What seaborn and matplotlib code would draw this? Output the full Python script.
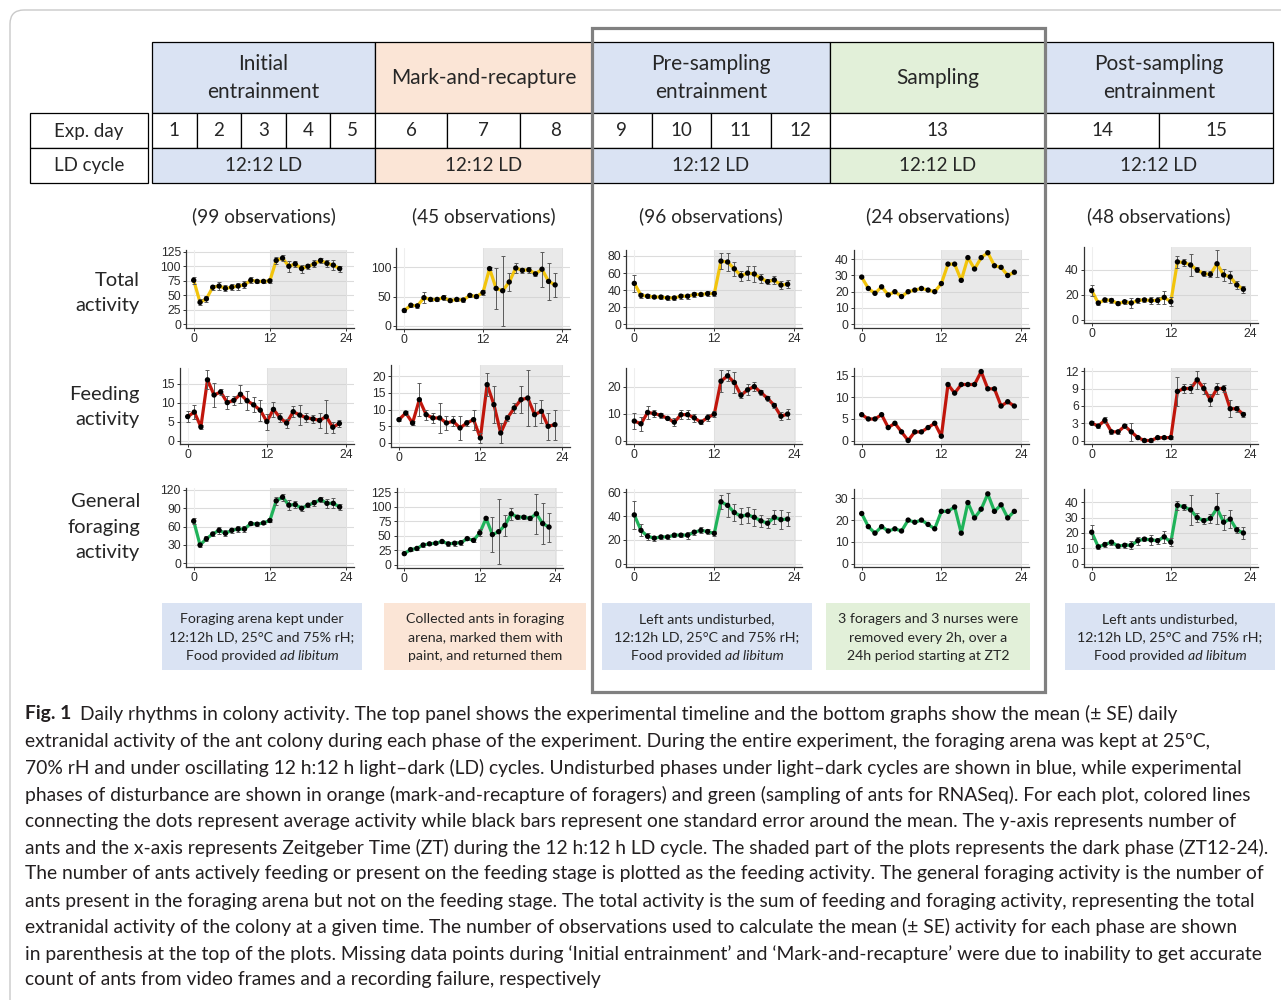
import matplotlib
matplotlib.use("Agg")
import matplotlib.pyplot as plt
import seaborn as sns
from matplotlib.patches import Rectangle, FancyBboxPatch
from matplotlib import font_manager as fm

sns.set_theme(style="white")
plt.rcParams['font.family'] = ['Lato', 'DejaVu Sans']

# ---------------- data ----------------
zt = list(range(24))

phase_names = ["Initial\nentrainment", "Mark-and-recapture", "Pre-sampling\nentrainment",
               "Sampling", "Post-sampling\nentrainment"]
phase_days = [[1, 2, 3, 4, 5], [6, 7, 8], [9, 10, 11, 12], [13], [14, 15]]
ld_cycle = ["12:12 LD"] * 5
obs_counts = [99, 45, 96, 24, 48]
row_labels = ["Total\nactivity", "Feeding\nactivity", "General\nforaging\nactivity"]
x_ticks = [0, 12, 24]

# Initial entrainment
init_total = [76, 38, 44, 64, 66, 62, 64, 66, 68, 76, 74, 74, 75, 110, 114, 100, 104, 96, 100, 104, 110, 105, 102, 96]
init_total_se = [6, 5, 5, 4, 7, 5, 5, 6, 6, 5, 3, 3, 3, 6, 5, 9, 5, 7, 4, 6, 4, 6, 8, 5]
init_feed = [6.3, 7.5, 3.6, 16, 12, 12.8, 10, 10.6, 12.2, 10.5, 9.4, 8, 5, 8.2, 6, 4.6, 7.6, 6.7, 6, 5.7, 5.3, 6.3, 3.5, 4.5]
init_feed_se = [1.5, 1.8, 0.5, 2.5, 3.2, 0.8, 1.8, 1.2, 2.4, 2.5, 2, 2.8, 2.1, 2, 1.2, 1.2, 1.5, 2.7, 1.2, 1, 2, 4.3, 1.4, 1]
init_forage = [69, 30, 40, 48, 54, 49, 54, 56, 56, 65, 64, 66, 70, 102, 108, 95, 96, 90, 95, 99, 104, 98, 98, 92]
init_forage_se = [5, 4, 4, 3, 6, 5, 4, 5, 5, 3, 3, 2, 2, 6, 6, 8, 5, 4, 3, 5, 4, 7, 8, 5]

# Mark-and-recapture
mark_total = [26, 35, 34, 48, 45, 45, 48, 43, 45, 44, 52, 50, 57, 98, 64, 60, 75, 99, 95, 96, 89, 97, 76, 70]
mark_total_se = [2, 3, 3, 9, 3, 3, 4, 3, 3, 3, 3, 3, 5, 3, 35, 60, 16, 8, 4, 5, 4, 30, 32, 21]
mark_feed = [7, 9, 6, 13, 8.5, 7.5, 7.5, 6, 6.5, 4.5, 6, 7, 1.5, 17.5, 11.5, 3, 7.5, 10.5, 13, 13.5, 8.5, 9.5, 5, 5.5]
mark_feed_se = [0.5, 0.5, 0.5, 5, 1.5, 1.5, 4.5, 2, 1.5, 3.5, 1, 3, 1.5, 3.5, 5.5, 3, 1, 1.5, 4, 8.5, 3.5, 3.5, 4, 4.5]
mark_forage = [19, 26, 28, 34, 36, 37, 40, 36, 37, 38, 45, 42, 55, 80, 52, 57, 68, 88, 82, 82, 80, 88, 71, 65]
mark_forage_se = [1, 2, 2, 4, 2, 2, 2, 3, 4, 4, 3, 3, 6, 3, 30, 56, 18, 10, 3, 3, 3, 35, 36, 25]

# Pre-sampling entrainment
pre_total = [48, 34, 33, 32, 32, 31, 31, 33, 33, 35, 35, 36, 36, 74, 73, 65, 57, 60, 59, 54, 50, 52, 46, 47]
pre_total_se = [10, 3, 2, 1.5, 2, 2, 2, 3, 3, 3, 2, 3, 3, 9, 10, 8, 6, 8, 9, 5, 3, 5, 5, 5]
pre_feed = [7.2, 6.2, 10.4, 10, 9.3, 8.2, 6.8, 9.6, 9.6, 8.4, 6.8, 8.5, 9.8, 22, 24, 21.5, 16.8, 18.8, 20, 17.8, 15.6, 13, 9, 9.8]
pre_feed_se = [3, 2.5, 2.3, 1.2, 0.8, 0.6, 1.5, 1.8, 1.8, 1.5, 0.8, 1.2, 1, 4, 2, 3.8, 1.2, 2, 1.8, 1, 1, 1, 1.5, 2]
pre_forage = [41, 28, 23, 21.5, 22.5, 22.5, 24, 24, 24, 26.5, 28, 27, 25.5, 52, 49, 43, 40, 41, 39, 36, 34, 39, 37, 37.5]
pre_forage_se = [12, 5, 3, 2, 2, 2, 1.5, 1.5, 3, 2, 2.5, 2, 2, 6, 10, 7, 7, 7, 7, 5, 4, 6, 8, 6]

# Sampling (single day, no error bars)
samp_total = [29, 22, 19, 23, 18, 20, 17, 20, 21, 22, 21, 20, 25, 37, 37, 27, 41, 34, 41, 44, 36, 35, 30, 32]
samp_feed = [6, 5, 5, 6, 3, 4, 2, 0, 2, 2, 3, 4, 1, 13, 11, 13, 13, 13, 16, 12, 12, 8, 9, 8]
samp_forage = [23, 17, 14, 17, 15, 16, 15, 20, 19, 20, 18, 16, 24, 24, 26, 14, 28, 21, 25, 32, 24, 27, 21, 24]

# Post-sampling entrainment
post_total = [23.5, 13.5, 16, 15.5, 13, 14.5, 13.5, 15.5, 16, 15.5, 15.5, 18, 14.5, 46.5, 46, 44, 40, 37, 36.5, 45, 36, 34.5, 28, 24.5]
post_total_se = [4.5, 1.5, 1.5, 2, 1, 1.5, 4, 2, 1.5, 3, 3, 5, 3.5, 5, 3, 9, 2, 2, 2.5, 11, 5, 5, 3, 3]
post_feed = [3, 2.5, 3.5, 1.5, 1.5, 2.5, 1.5, 0.5, 0, 0, 0.5, 0.5, 0.5, 8.5, 9, 9, 10.5, 9, 7, 9, 9, 5.5, 5.5, 4.5]
post_feed_se = [0.3, 0.3, 0.5, 0.4, 0.4, 0.4, 1.5, 0.3, 0.2, 0.2, 0.3, 0.3, 0.3, 2.5, 0.8, 0.8, 1.5, 1, 1, 1, 0.6, 1.5, 0.5, 0.5]
post_forage = [20.5, 11, 12.5, 14, 11.5, 12, 12, 15, 16, 15.5, 15, 17.5, 14, 38, 37, 35, 30, 28, 29.5, 36, 27, 29, 22, 20]
post_forage_se = [4.5, 1.5, 1.5, 1.5, 1, 1.5, 2.5, 2.5, 1.5, 3, 2, 4, 2.5, 3, 2, 10, 3, 2, 3, 10, 5, 6, 2, 4]

# y ticks per panel (columns = phases, rows = activity type)
y_ticks = [
    [[0, 25, 50, 75, 100, 125], [0, 5, 10, 15], [0, 30, 60, 90, 120]],
    [[0, 50, 100], [0, 5, 10, 15, 20], [0, 25, 50, 75, 100, 125]],
    [[0, 20, 40, 60, 80], [0, 10, 20], [0, 20, 40, 60]],
    [[0, 10, 20, 30, 40], [0, 5, 10, 15], [0, 10, 20, 30]],
    [[0, 20, 40], [0, 3, 6, 9, 12], [0, 10, 20, 30, 40]],
]
y_top = [[128, 19.2, 123], [133, 23.4, 132], [87, 27, 62.5], [45.7, 16.9, 34.1], [58.7, 12.6, 48.4]]

note_lines = [
    [[("Foraging arena kept under", "normal")], [("12:12h LD, 25\u00b0C and 75% rH;", "normal")],
     [("Food provided", "normal"), ("ad libitum", "italic")]],
    [[("Collected ants in foraging", "normal")], [("arena, marked them with", "normal")],
     [("paint, and returned them", "normal")]],
    [[("Left ants undisturbed,", "normal")], [("12:12h LD, 25\u00b0C and 75% rH;", "normal")],
     [("Food provided", "normal"), ("ad libitum", "italic")]],
    [[("3 foragers and 3 nurses were", "normal")], [("removed every 2h, over a", "normal")],
     [("24h period starting at ZT2", "normal")]],
    [[("Left ants undisturbed,", "normal")], [("12:12h LD, 25\u00b0C and 75% rH;", "normal")],
     [("Food provided", "normal"), ("ad libitum", "italic")]],
]

caption_head = "Fig. 1"
caption_lines = [
    "Daily rhythms in colony activity. The top panel shows the experimental timeline and the bottom graphs show the mean (\u00b1 SE) daily",
    "extranidal activity of the ant colony during each phase of the experiment. During the entire experiment, the foraging arena was kept at 25\u00baC,",
    "70% rH and under oscillating 12 h:12 h light\u2013dark (LD) cycles. Undisturbed phases under light\u2013dark cycles are shown in blue, while experimental",
    "phases of disturbance are shown in orange (mark-and-recapture of foragers) and green (sampling of ants for RNASeq). For each plot, colored lines",
    "connecting the dots represent average activity while black bars represent one standard error around the mean. The y-axis represents number of",
    "ants and the x-axis represents Zeitgeber Time (ZT) during the 12 h:12 h LD cycle. The shaded part of the plots represents the dark phase (ZT12-24).",
    "The number of ants actively feeding or present on the feeding stage is plotted as the feeding activity. The general foraging activity is the number of",
    "ants present in the foraging arena but not on the feeding stage. The total activity is the sum of feeding and foraging activity, representing the total",
    "extranidal activity of the colony at a given time. The number of observations used to calculate the mean (\u00b1 SE) activity for each phase are shown",
    "in parenthesis at the top of the plots. Missing data points during \u2018Initial entrainment\u2019 and \u2018Mark-and-recapture\u2019 were due to inability to get accurate",
    "count of ants from video frames and a recording failure, respectively",
]

series = [
    [(init_total, init_total_se), (init_feed, init_feed_se), (init_forage, init_forage_se)],
    [(mark_total, mark_total_se), (mark_feed, mark_feed_se), (mark_forage, mark_forage_se)],
    [(pre_total, pre_total_se), (pre_feed, pre_feed_se), (pre_forage, pre_forage_se)],
    [(samp_total, None), (samp_feed, None), (samp_forage, None)],
    [(post_total, post_total_se), (post_feed, post_feed_se), (post_forage, post_forage_se)],
]

# ---------------- layout / style ----------------
W, H = 1281, 1000
BLUE, ORANGE, GREEN = "#DAE3F3", "#FBE5D6", "#E2F0D9"
phase_fill = [BLUE, ORANGE, BLUE, GREEN, BLUE]
line_colors = ["#F2C40C", "#C0160C", "#1FB35A"]
phase_edges = [152, 375, 592, 830, 1045, 1273]

# pixel position of ZT0 and ZT24 on each panel's x axis
x_px = [
    [(193.7, 346), (187.7, 346), (193.7, 346)],
    [(404.3, 561.7), (399, 561.7), (404.3, 555.3)],
    [(634.3, 794.3)] * 3,
    [(861.7, 1021)] * 3,
    [(1091.7, 1250)] * 3,
]
# pixel top / bottom of each panel
y_px = [
    [(250, 328), (367.7, 444), (488, 567)],
    [(248.3, 329.3), (365, 446.7), (488.3, 568.3)],
    [(250, 328), (367.7, 444), (489.3, 567.3)],
    [(250, 327.7), (367.7, 444), (489.3, 567.3)],
    [(246.7, 323.3), (367.7, 444), (489.3, 567.3)],
]

names = {f.name for f in fm.fontManager.ttflist}
tick_font = "Liberation Sans" if "Liberation Sans" in names else "DejaVu Sans"
head_font = ["Lato", "DejaVu Sans"]

fig = plt.figure(figsize=(W / 100, H / 100), dpi=100)
fig.patch.set_facecolor("white")
bg = fig.add_axes([0, 0, 1, 1], zorder=0)
bg.set_xlim(0, W)
bg.set_ylim(H, 0)
bg.axis("off")

# outer rounded frame
bg.add_patch(FancyBboxPatch((10, 10), 1320, 1040, boxstyle="round,pad=0,rounding_size=14",
                            fc="none", ec="#c9c9c9", lw=1.0, clip_on=False))

# ---------------- timeline table ----------------
lw_t = 0.9
for i, name in enumerate(phase_names):
    x0, x1 = phase_edges[i], phase_edges[i + 1]
    bg.add_patch(Rectangle((x0, 42), x1 - x0, 71, fc=phase_fill[i], ec="black", lw=lw_t))
    bg.text((x0 + x1) / 2, 78, name, ha="center", va="center", fontsize=15,
            family=head_font, linespacing=1.5)
    days = phase_days[i]
    dw = (x1 - x0) / len(days)
    for j, d in enumerate(days):
        bg.add_patch(Rectangle((x0 + j * dw, 113), dw, 35, fc="white", ec="black", lw=lw_t))
        bg.text(x0 + (j + 0.5) * dw, 131, str(d), ha="center", va="center", fontsize=13.5, family=head_font)
    bg.add_patch(Rectangle((x0, 148), x1 - x0, 35, fc=phase_fill[i], ec="black", lw=lw_t))
    bg.text((x0 + x1) / 2, 165.5, ld_cycle[i], ha="center", va="center", fontsize=13.5, family=head_font)
    bg.text((x0 + x1) / 2, 216, f"({obs_counts[i]} observations)", ha="center", va="center",
            fontsize=13.7, family=head_font)

for k, lab in enumerate(["Exp. day", "LD cycle"]):
    bg.add_patch(Rectangle((30, 113 + 35 * k), 118, 35, fc="white", ec="black", lw=lw_t))
    bg.text(89, 131 + 34.5 * k, lab, ha="center", va="center", fontsize=13.5, family=head_font)

# highlighted block around pre-sampling and sampling
bg.add_patch(Rectangle((592, 28), 453, 664, fc="none", ec="#808080", lw=2.3, zorder=5))

# row labels
for lab, yc in zip(row_labels, [293, 407, 527]):
    bg.text(140, yc, lab, ha="right", va="center", fontsize=14.5, family=head_font, linespacing=1.62)

# ---------------- notes under each column ----------------
note_boxes = [(162, 362), (384, 586), (602, 812), (826, 1030), (1065, 1275)]
renderer = fig.canvas.get_renderer()
for (bx0, bx1), fill, lines in zip(note_boxes, phase_fill, note_lines):
    bg.add_patch(Rectangle((bx0, 603), bx1 - bx0, 67, fc=fill, ec="none"))
    xc = (bx0 + bx1) / 2
    for li, segs in enumerate(lines):
        yc = 619 + li * 18.5
        arts, widths = [], []
        for s, st in segs:
            t = bg.text(0, yc, s, style=st, ha="left", va="center", fontsize=10.2, family=head_font)
            arts.append(t)
            widths.append(t.get_window_extent(renderer).width)
        gap = 3.5
        total = sum(widths) + gap * (len(widths) - 1)
        x = xc - total / 2
        for t, w in zip(arts, widths):
            t.set_x(x)
            x += w + gap

# ---------------- caption ----------------
cap_y = [714, 741, 768, 795, 821, 848, 874, 901, 927, 954, 980]
cap_font = ["Lato", "DejaVu Sans"]
cap_size = 13.9
th = bg.text(25, cap_y[0], caption_head, ha="left", va="center", fontsize=cap_size, weight="bold",
             family=cap_font, color="#231f20")
hw = th.get_window_extent(renderer).width
for k, (line, yc) in enumerate(zip(caption_lines, cap_y)):
    x = 25 + hw + 9 if k == 0 else 25
    bg.text(x, yc, line, ha="left", va="center", fontsize=cap_size, family=cap_font, color="#231f20")

# ---------------- activity panels ----------------
for c in range(5):
    for r in range(3):
        (p0, p24), (top, bot) = x_px[c][r], y_px[c][r]
        step = (p24 - p0) / 24
        left, right = p0 - 1.2 * step, p24 + 1.2 * step
        ax = fig.add_axes([left / W, 1 - bot / H, (right - left) / W, (bot - top) / H], zorder=2)
        ax.patch.set_alpha(0)
        ytop = y_top[c][r]
        ax.set_xlim(-1.2, 25.2)
        ax.set_ylim(-0.048 * ytop, ytop)
        for yt in y_ticks[c][r]:
            ax.axhline(yt, color="#dcdcdc", lw=0.8, zorder=0.2)
        for xt in x_ticks:
            ax.axvline(xt, color="#eeeeee", lw=0.8, zorder=0.2)
        ax.axvspan(12, 24.2, color="#d0d0d0", alpha=0.45, lw=0, zorder=0.5)

        mean, se = series[c][r]
        if se is not None:
            ax.errorbar(zt, mean, yerr=se, fmt="none", ecolor="#5a5a5a", elinewidth=0.7,
                        capsize=1.6, capthick=0.7, zorder=3)
        sns.lineplot(x=zt, y=mean, ax=ax, color=line_colors[r], lw=2.3, zorder=2)
        sns.scatterplot(x=zt, y=mean, ax=ax, color="black", s=15, edgecolor="none", zorder=4)

        ax.set_xlabel("")
        ax.set_ylabel("")
        ax.set_xticks(x_ticks)
        ax.set_yticks(y_ticks[c][r])
        for side in ["top", "right"]:
            ax.spines[side].set_visible(False)
        for side in ["left", "bottom"]:
            ax.spines[side].set_color("#333333")
            ax.spines[side].set_linewidth(0.9)
        ax.tick_params(axis="both", which="both", length=2.5, width=0.7, colors="#333333",
                       labelsize=8.7, pad=1.2, left=True, bottom=True)
        for lab in ax.get_xticklabels() + ax.get_yticklabels():
            lab.set_fontfamily(tick_font)
            lab.set_color("#2b2b2b")

fig.savefig("out.png", dpi=100, facecolor="white")
